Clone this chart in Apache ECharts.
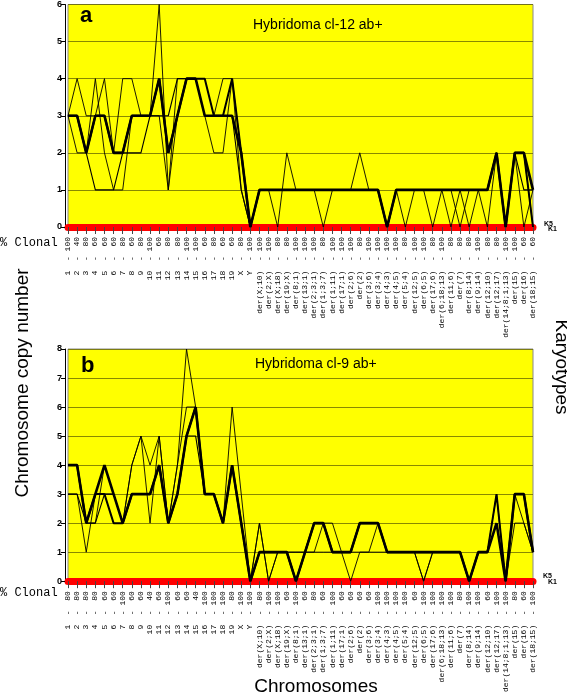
<!DOCTYPE html>
<html>
<head>
<meta charset="utf-8">
<script src="https://cdn.jsdelivr.net/npm/echarts@6/dist/echarts.min.js"></script>
<style>html,body{margin:0;padding:0;background:#fff;}#c{width:567px;height:695px;}</style>
</head>
<body>
<div id="c"></div>
<script>
const categories = ['1','2','3','4','5','6','7','8','9','10','11','12','13','14','15','16','17','18','19','X','Y',
  'der(X;10)','der(2;X)','der(X;18)','der(19;X)','der(8;1)','der(13;1)','der(2;3;1)','der(1;3;7)','der(1;11)','der(17;1)',
  'der(2;6)','der(2)','der(3;6)','der(3;4)','der(4;3)','der(4;5)','der(5;4)','der(12;5)','der(6;5)','der(17;6)',
  'der(6;18;13)','der(11;6)','der(7)','der(8;14)','der(9;14)','der(12;10)','der(12;17)','der(14;8;1;13)','der(15)','der(16)','der(18;15)'];

const pctA = [100,40,80,60,60,60,80,60,80,100, 60,80,80,100,100,60,80,60,60,80, 100,100,100,80,80,100,100,100,80,100,
  100,100,80,100,100,100,100,80,100,100, 80,100,80,80,80,100,80,80,100,100, 60,60];
const pctB = [80,80,80,80,60,60,100,60,60,40, 60,100,60,60,40,100,100,100,80,100, 100,80,100,100,60,100,60,80,60,100,
  60,60,60,60,100,100,100,100,60,100, 100,100,100,80,100,100,60,100,100,80, 60,100];

// Panel a: copy numbers per karyotype
const a_K1 = [3,3,2,3,3,2,2,3,3,3,4,2,3,4,4,3,3,3,3,2,0, 1,1,1,1,1,1,1,1,1,1,1,1,1,1,0,1,1,1,1,1,1,1,1,1,1,1,2,0,2,2,1];
const a_K2 = [3,3,2,3,3,2,2,3,3,3,4,2,3,4,4,4,3,3,4,2,0, 1,1,1,1,1,1,1,1,1,1,1,1,1,1,0,1,1,1,1,1,1,1,1,1,1,1,2,0,2,2,0];
const a_K3 = [3,4,3,3,4,2,4,4,3,3,3,1,4,4,4,3,2,2,4,1,0, 1,1,0,2,1,1,1,0,1,1,1,2,1,1,0,1,0,1,1,0,1,1,0,1,1,0,2,0,2,0,1];
const a_K4 = [3,2,2,4,2,1,1,3,3,3,6,1,3,4,4,3,3,4,4,2,0, 1,1,1,1,1,1,1,1,1,1,1,1,1,1,0,1,1,1,1,1,1,0,1,0,1,1,2,0,2,2,0];
const a_K5 = [3,3,2,1,1,1,2,2,2,3,3,3,4,4,4,3,3,3,3,1,0, 1,1,1,1,1,1,1,1,1,1,1,1,1,1,0,1,1,1,1,1,1,1,1,1,1,1,2,0,2,1,1];

// Panel b
const b_K1 = [4,4,2,3,4,3,2,3,3,3,4,2,3,5,6,3,3,2,4,2,0, 1,1,1,1,0,1,2,2,1,1,1,2,2,2,1,1,1,1,1,1,1,1,1,0,1,1,2,0,3,3,1];
const b_K2 = [4,4,2,3,3,2,2,3,3,3,4,2,3,5,6,3,3,2,4,2,0, 1,1,1,1,0,1,2,2,1,1,1,2,2,2,1,1,1,1,1,1,1,1,1,0,1,1,3,0,3,3,1];
const b_K3 = [3,3,1,3,3,3,2,4,5,2,5,2,4,8,6,3,3,2,6,3,0, 2,0,1,1,1,1,1,2,2,1,0,1,1,2,1,1,1,1,0,1,1,1,1,0,1,1,3,0,2,2,1];
const b_K4 = [4,4,2,2,4,3,2,4,5,4,5,2,4,6,6,3,3,2,4,2,0, 2,0,1,1,1,1,1,1,1,1,1,1,1,1,1,1,1,1,0,1,1,1,1,0,1,1,2,0,3,2,1];
const b_K5 = [3,3,2,2,3,3,2,3,3,3,4,2,3,5,5,3,3,2,4,2,0, 1,1,1,1,0,1,2,2,1,1,1,2,2,2,1,1,1,1,1,1,1,1,1,0,1,1,2,0,3,3,1];

const yMaxA = 6, yMaxB = 8;
const seriesWidths = [2.6, 2.0, 0.9, 0.9, 1.1];

function xAxisFor(gridIndex, pct, margin) {
  return {
    type: 'category', gridIndex: gridIndex, data: categories, boundaryGap: false,
    axisLine: { show: true, lineStyle: { color: '#ff0000', width: 7 } },
    axisTick: { show: true, interval: 0, length: 7, lineStyle: { color: '#444', width: 1 } },
    axisLabel: {
      interval: 0, rotate: 90, margin: margin, hideOverlap: false,
      fontFamily: 'Liberation Mono', fontSize: 8, color: '#000',
      formatter: function (v, i) { return v + '  - ' + String(pct[i]).padStart(3, ' '); }
    },
    splitLine: { show: false }
  };
}
function yAxisFor(gridIndex, max) {
  return {
    type: 'value', gridIndex: gridIndex, min: 0, max: max, interval: 1, offset: 3,
    axisLine: { show: true, lineStyle: { color: '#000', width: 1 } },
    axisTick: { show: true, length: 4, lineStyle: { color: '#000' } },
    axisLabel: { fontFamily: 'Liberation Sans', fontWeight: 'bold', fontSize: 9, color: '#000', margin: 3 },
    splitLine: { show: true, lineStyle: { color: '#6b6b00', width: 0.8 } }
  };
}
function makeSeries(list, gi) {
  return list.map(function (d, k) {
    return {
      name: 'K' + (k + 1), type: 'line', xAxisIndex: gi, yAxisIndex: gi, data: d,
      symbol: 'none', silent: true, z: 5 - k,
      lineStyle: { color: '#000', width: seriesWidths[k] }
    };
  });
}

const chart = echarts.init(document.getElementById('c'), null, { renderer: 'canvas' });
chart.setOption({
  animation: false,
  backgroundColor: '#ffffff',
  grid: [
    { left: 68, right: 34, top: 2, height: 225, show: true, backgroundColor: '#ffff00', borderColor: '#8a8a8a', borderWidth: 1 },
    { left: 68, right: 34, top: 349, height: 234, show: true, backgroundColor: '#ffff00', borderColor: '#8a8a8a', borderWidth: 1 }
  ],
  xAxis: [xAxisFor(0, pctA, 10), xAxisFor(1, pctB, 10)],
  yAxis: [yAxisFor(0, yMaxA), yAxisFor(1, yMaxB)],
  series: makeSeries([a_K1, a_K2, a_K3, a_K4, a_K5], 0).concat(makeSeries([b_K1, b_K2, b_K3, b_K4, b_K5], 1)),
  graphic: [
    { type: 'text', x: 80, y: 16, style: { text: 'a', fill: '#000', font: 'bold 22px "Liberation Sans"', textVerticalAlign: 'middle' } },
    { type: 'text', x: 253, y: 25.5, style: { text: 'Hybridoma cl-12 ab+', fill: '#000', font: '14px "Liberation Sans"', textVerticalAlign: 'middle' } },
    { type: 'text', x: 81, y: 366, style: { text: 'b', fill: '#000', font: 'bold 22px "Liberation Sans"', textVerticalAlign: 'middle' } },
    { type: 'text', x: 255, y: 364, style: { text: 'Hybridoma cl-9 ab+', fill: '#000', font: '14px "Liberation Sans"', textVerticalAlign: 'middle' } },
    { type: 'text', x: 0, y: 242.5, style: { text: '% Clonal', fill: '#000', font: '12px "Liberation Mono"', textVerticalAlign: 'middle' } },
    { type: 'text', x: 0, y: 593, style: { text: '% Clonal', fill: '#000', font: '12px "Liberation Mono"', textVerticalAlign: 'middle' } },
    { type: 'text', x: 316, y: 687, style: { text: 'Chromosomes', fill: '#000', font: '19px "Liberation Sans"', textAlign: 'center', textVerticalAlign: 'middle' } },
    { type: 'text', x: 23, y: 383, rotation: Math.PI / 2, style: { text: 'Chromosome copy number', fill: '#000', font: '19px "Liberation Sans"', textAlign: 'center', textVerticalAlign: 'middle' } },
    { type: 'text', x: 561, y: 367, rotation: -Math.PI / 2, style: { text: 'Karyotypes', fill: '#000', font: '19px "Liberation Sans"', textAlign: 'center', textVerticalAlign: 'middle' } },
    { type: 'text', x: 544, y: 224, style: { text: 'K5', fill: '#000', font: 'bold 7px "Liberation Sans"', textVerticalAlign: 'middle' } },
    { type: 'text', x: 548, y: 229, style: { text: 'K1', fill: '#000', font: 'bold 7px "Liberation Sans"', textVerticalAlign: 'middle' } },
    { type: 'text', x: 543, y: 576, style: { text: 'K5', fill: '#000', font: 'bold 7px "Liberation Sans"', textVerticalAlign: 'middle' } },
    { type: 'text', x: 548, y: 582, style: { text: 'K1', fill: '#000', font: 'bold 7px "Liberation Sans"', textVerticalAlign: 'middle' } }
  ]
});
</script>
</body>
</html>
